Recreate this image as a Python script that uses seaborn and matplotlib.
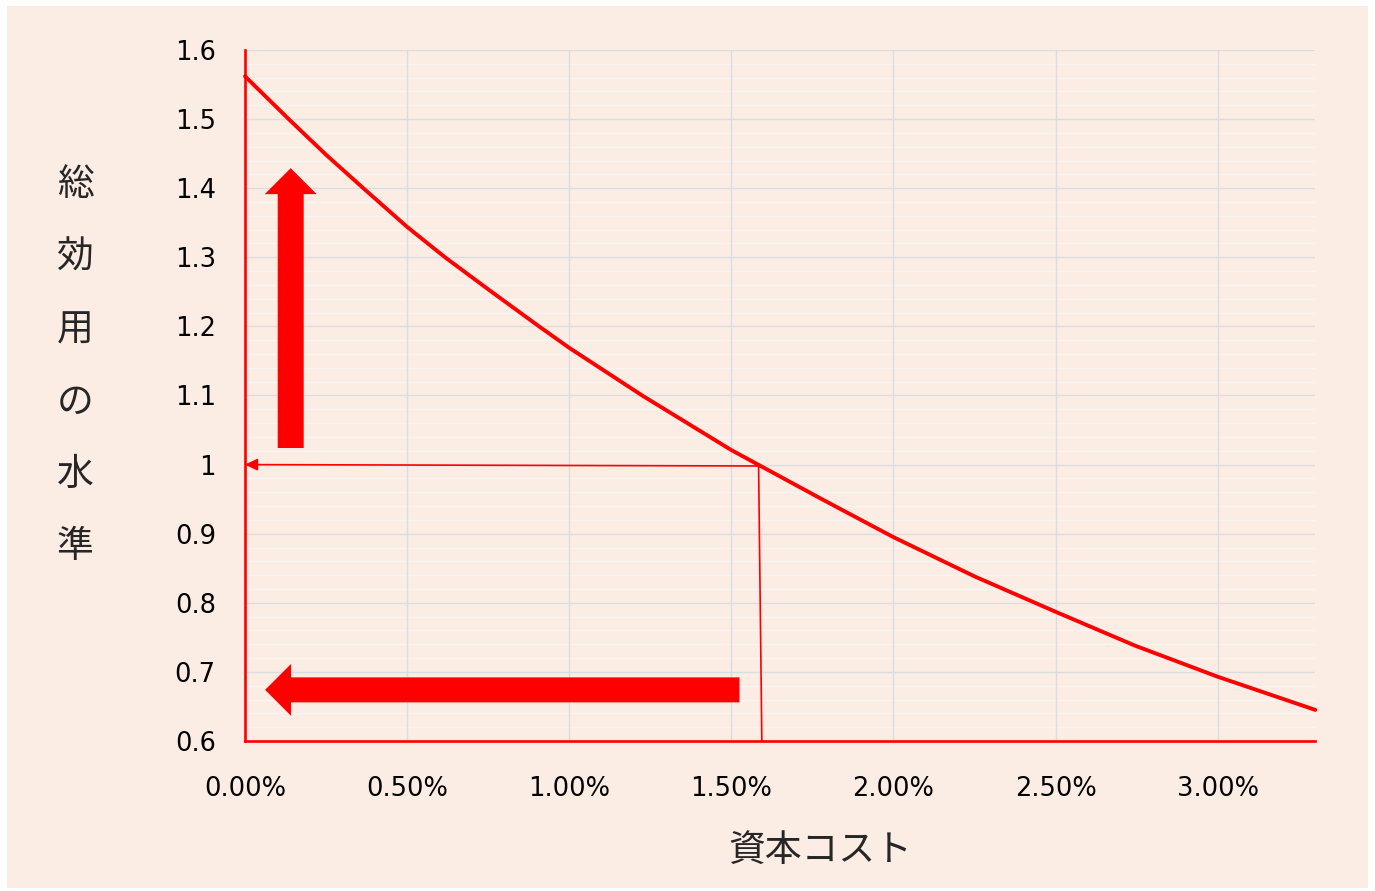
import numpy as np
import pandas as pd
import seaborn as sns
import matplotlib.pyplot as plt
from matplotlib.patches import Rectangle, FancyArrowPatch
from matplotlib.ticker import FixedLocator, MultipleLocator, PercentFormatter

sns.set_style("ticks")
plt.rcParams['font.family'] = ['DejaVu Sans', 'Noto Sans CJK JP']

# values (capital cost as a fraction, utility level)
capital_cost = [0.0, 0.00137, 0.00251, 0.00365, 0.005, 0.00617, 0.00752,
                0.00907, 0.01, 0.01225, 0.015, 0.01779, 0.02, 0.02251,
                0.025, 0.02745, 0.03, 0.03301]
utility = [1.562, 1.499, 1.448, 1.400, 1.344, 1.300, 1.253,
           1.200, 1.169, 1.100, 1.021, 0.950, 0.895, 0.838,
           0.787, 0.738, 0.693, 0.645]

x_ticks = [0.0, 0.005, 0.01, 0.015, 0.02, 0.025, 0.03]
y_ticks = [0.6, 0.7, 0.8, 0.9, 1.0, 1.1, 1.2, 1.3, 1.4, 1.5, 1.6]
y_tick_labels = ["0.6", "0.7", "0.8", "0.9", "1", "1.1", "1.2", "1.3", "1.4", "1.5", "1.6"]

x_label = "資本コスト"
y_label = "総効用の水準"

# point where utility level is 1, and where the guide line hits the x axis
cross_x, cross_y = 0.01584, 0.998
foot_x = 0.01594

# big block arrows (data coords)
up_arrow = ((0.00141, 1.024), (0.00141, 1.429))
left_arrow = ((0.01525, 0.674), (0.00062, 0.674))

RED = '#FF0000'
df = pd.DataFrame({'cost': capital_cost, 'utility': utility})

fig = plt.figure(figsize=(13.75, 8.91), dpi=100, facecolor='white')
fig.add_artist(Rectangle((7 / 1375, 3 / 891), 1361 / 1375, 882 / 891,
                         transform=fig.transFigure, facecolor='#FCEDE4',
                         edgecolor='none', zorder=0))

ax = fig.add_axes([245 / 1375, 150 / 891, 1070 / 1375, 691 / 891])
ax.set_facecolor('none')

sns.lineplot(data=df, x='cost', y='utility', color=RED, linewidth=2.8, ax=ax,
             clip_on=False, zorder=5)

# guide lines
ax.plot([cross_x, foot_x], [cross_y, 0.6], color=RED, lw=1.2, zorder=4)
ax.add_patch(FancyArrowPatch((cross_x, cross_y), (0.0, 1.0),
                             arrowstyle="-|>,head_length=7.5,head_width=3.6",
                             mutation_scale=1, color=RED, lw=1.2,
                             shrinkA=0, shrinkB=0, clip_on=False, zorder=4))


def block_arrow(ax, tail, tip, head_len, head_w, tail_w):
    ax.add_patch(FancyArrowPatch(
        tail, tip,
        arrowstyle=f"simple,head_length={head_len},head_width={head_w},tail_width={tail_w}",
        mutation_scale=1, facecolor=RED, edgecolor='none', lw=0,
        shrinkA=0, shrinkB=0, zorder=4))


block_arrow(ax, up_arrow[0], up_arrow[1], 18.7, 37.4, 18.7)
block_arrow(ax, left_arrow[0], left_arrow[1], 18.7, 37.4, 18.0)

ax.set_xlim(0, 0.033)
ax.set_ylim(0.6, 1.6)
ax.xaxis.set_major_locator(FixedLocator(x_ticks))
ax.xaxis.set_major_formatter(PercentFormatter(xmax=1, decimals=2))
ax.set_yticks(y_ticks)
ax.set_yticklabels(y_tick_labels)
ax.yaxis.set_minor_locator(MultipleLocator(0.02))

ax.set_axisbelow(True)
# horizontal grid first, vertical lines on top so they stay solid
ax.yaxis.set_zorder(0.4)
ax.grid(which='minor', axis='y', color='#FAF5F2', lw=1.0)
ax.grid(which='major', color='#D9DDE2', lw=1.0)
ax.tick_params(which='both', length=0)
ax.tick_params(axis='x', which='major', pad=25, labelsize=18.5, colors='black')
ax.tick_params(axis='y', which='major', pad=21, labelsize=18.5, colors='black')

for side in ['top', 'right']:
    ax.spines[side].set_visible(False)
for side in ['left', 'bottom']:
    ax.spines[side].set_color(RED)
    ax.spines[side].set_linewidth(1.9)
    ax.spines[side].set_zorder(6)

ax.set_xlabel('')
ax.set_ylabel('')

jp = ['Noto Sans CJK JP', 'DejaVu Sans']
fig.text(820 / 1375, 1 - 850 / 891, x_label, ha='center', va='center',
         fontsize=26.5, family=jp)
for i, ch in enumerate(y_label):
    fig.text(75 / 1375, 1 - (185 + 72.4 * i) / 891, ch, ha='center', va='center',
             fontsize=26.5, family=jp)

fig.savefig('out.png', dpi=100, facecolor='white')
